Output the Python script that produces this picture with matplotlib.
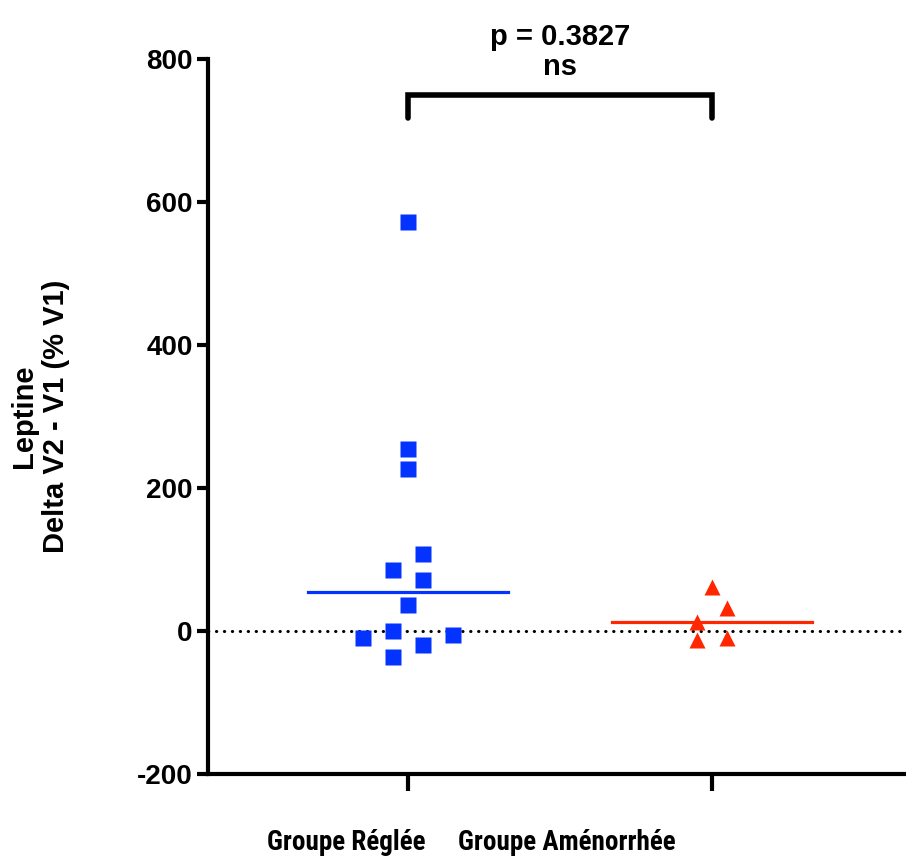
import numpy as np
import matplotlib
matplotlib.use("Agg")
import matplotlib.pyplot as plt

plt.rcParams['font.family'] = ['Liberation Sans', 'DejaVu Sans']
plt.rcParams['font.weight'] = 'bold'
plt.rcParams['axes.unicode_minus'] = False

# Data
groups = ["Groupe Réglée", "Groupe Aménorrhée"]
reglee = [572, 255, 227, 108, 86, 71, 37, -10, 0, -6, -20, -37]
amenorrhee = [61, 32, 13, -12, -10]
p_value = 0.3827

# sideways slot of each point (column scatter layout)
reglee_slot = [0, 0, 0, 1, -1, 1, 0, -3, -1, 3, 1, -1]
amenorrhee_slot = [0, 1, -1, -1, 1]
slot_w = 0.049

blue = '#0433FF'
red = '#FF2600'

fig = plt.figure(figsize=(9.06, 8.56), dpi=100)
ax = fig.add_axes([208/906, 1-774/856, 1-208/906, (774-59)/856])

ax.axhline(0, color='black', lw=2.2, ls=(0, (0.1, 2.5)), dash_capstyle='round', zorder=1)

for i, (vals, slots, col, mk, ms) in enumerate([
        (reglee, reglee_slot, blue, 's', 12),
        (amenorrhee, amenorrhee_slot, red, '^', 12)]):
    x = i + np.array(slots) * slot_w
    ax.plot(x, vals, ls='none', marker=mk, ms=ms, color=col, mec='none', zorder=3)
    med = np.median(vals)
    ax.plot([i-0.33, i+0.33], [med, med], color=col, lw=2.3, zorder=4)

ax.set_xlim(-0.658, 1.638)
ax.set_ylim(-200, 800)
ax.set_yticks([-200, 0, 200, 400, 600, 800])
ax.set_xticks([0, 1])
ax.set_xticklabels([])

for s in ['top', 'right']:
    ax.spines[s].set_visible(False)
for s in ['left', 'bottom']:
    ax.spines[s].set_linewidth(3)
ax.tick_params(axis='y', width=3, length=8, pad=3, labelsize=20)
ax.tick_params(axis='x', width=3, length=12)

# group names sit left of their ticks in the original
narrow = ['Roboto Condensed', 'PT Sans Narrow', 'DejaVu Sans']
for name, xc in zip(groups, [346, 567]):
    fig.text(xc/906, 1-850/856, name, ha='center', va='baseline', fontsize=19.5,
             fontweight='bold', family=narrow)

fig.text(40/906, 1-416/856, "Leptine\nDelta V2 - V1 (% V1)", rotation=90,
         ha='center', va='center', multialignment='center', fontsize=21,
         fontweight='bold', linespacing=1.15)

# significance bracket
ax.plot([0, 0, 1, 1], [718, 749, 749, 718], color='black', lw=4,
        solid_capstyle='round', solid_joinstyle='miter', clip_on=False)
fig.text(560/906, 1-45/856, "p = {:.4f}".format(p_value), ha='center', va='baseline',
         fontsize=21, fontweight='bold')
fig.text(560/906, 1-75/856, "ns", ha='center', va='baseline', fontsize=21, fontweight='bold')

fig.savefig("out.png", dpi=100)
